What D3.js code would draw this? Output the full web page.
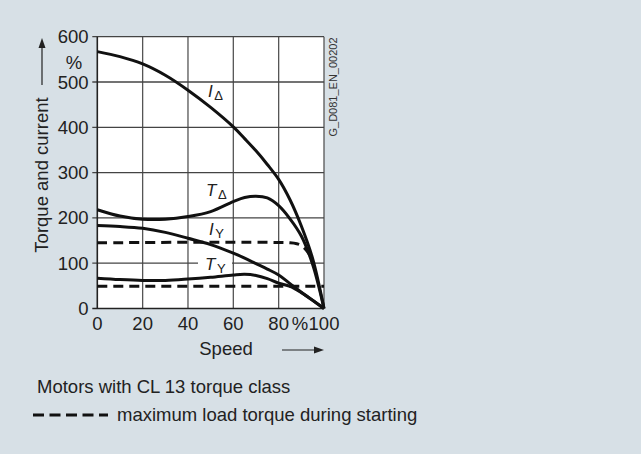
<!DOCTYPE html>
<html>
<head>
<meta charset="utf-8">
<script src="https://cdn.jsdelivr.net/npm/d3@7"></script>
<style>
  body { margin: 0; background: #d7e0e6; }
  svg { display: block; font-family: "Liberation Sans", Arial, sans-serif; }
</style>
</head>
<body>
<svg id="chart" width="641" height="454"></svg>
<script>
// speed in %, values in %
const speed = [0, 10, 20, 30, 40, 50, 60, 65, 70, 75, 80, 85, 90, 95, 100];
const currentDelta = [567, 556, 540, 515, 482, 444, 401, 375, 348, 318, 285, 240, 182, 110, 0];
const torqueDelta = [218, 204, 197, 197, 203, 214, 236, 245, 248, 244, 227, 198, 160, 97, 0];
const currentStar = [183, 181, 177, 168, 155, 141, 122, 111, 99, 87, 74, 55, 36, 18, 0];
const torqueStar = [67, 64, 62, 62, 65, 69, 74, 75.5, 73, 66, 56, 49, 35, 18, 0];

const loadSpeedHigh = [0, 85, 88, 90, 92.5, 95];
const loadHigh = [145, 145, 143, 139, 127, 108];
const loadSpeedLow = [0, 100];
const loadLow = [49, 49];

const xTicks = [0, 20, 40, 60, 80, 100];
const yTicks = [0, 100, 200, 300, 400, 500, 600];

const svg = d3.select("#chart");
const x = d3.scaleLinear().domain([0, 100]).range([97.3, 324]);
const y = d3.scaleLinear().domain([0, 600]).range([308.5, 36.7]);

// plot background
svg.append("rect")
  .attr("x", x(0)).attr("y", y(600))
  .attr("width", x(100) - x(0)).attr("height", y(0) - y(600))
  .attr("fill", "#fff");

// grid
svg.append("g").selectAll("line").data(xTicks.slice(1)).enter().append("line")
  .attr("x1", d => x(d)).attr("x2", d => x(d))
  .attr("y1", y(0)).attr("y2", y(600))
  .attr("stroke", "#555").attr("stroke-width", 1.3);
svg.append("g").selectAll("line").data(yTicks.slice(1)).enter().append("line")
  .attr("x1", x(0) - 5).attr("x2", x(100))
  .attr("y1", d => y(d)).attr("y2", d => y(d))
  .attr("stroke", "#444").attr("stroke-width", 1.3);

// axes
svg.append("line").attr("x1", x(0)).attr("x2", x(0)).attr("y1", y(0)).attr("y2", y(600))
  .attr("stroke", "#222").attr("stroke-width", 1.6);
svg.append("line").attr("x1", x(0) - 5).attr("x2", x(100)).attr("y1", y(0)).attr("y2", y(0))
  .attr("stroke", "#222").attr("stroke-width", 1.6);

// tick labels
svg.append("g").selectAll("text").data(yTicks).enter().append("text")
  .attr("x", 88.5).attr("y", d => y(d) + 6.5)
  .attr("text-anchor", "end").attr("font-size", 18.5).attr("fill", "#222")
  .text(d => d);
svg.append("text").attr("x", 74).attr("y", 69).attr("text-anchor", "middle")
  .attr("font-size", 18.5).attr("fill", "#222").text("%");

svg.append("g").selectAll("text").data(xTicks).enter().append("text")
  .attr("x", d => x(d)).attr("y", 330)
  .attr("text-anchor", "middle").attr("font-size", 18.5).attr("fill", "#222")
  .text(d => d);
svg.append("text").attr("x", 300).attr("y", 330).attr("text-anchor", "middle")
  .attr("font-size", 18.5).attr("fill", "#222").text("%");

// axis titles
svg.append("text")
  .attr("transform", "translate(48,175) rotate(-90)")
  .attr("text-anchor", "middle").attr("font-size", 18.5).attr("fill", "#222")
  .text("Torque and current");
svg.append("line").attr("x1", 42).attr("x2", 42).attr("y1", 85).attr("y2", 44)
  .attr("stroke", "#222").attr("stroke-width", 1.2);
svg.append("path").attr("d", "M42,38 L38.5,48 L45.5,48 Z").attr("fill", "#222");

svg.append("text").attr("x", 226).attr("y", 355).attr("text-anchor", "middle")
  .attr("font-size", 18.5).attr("fill", "#222").text("Speed");
svg.append("line").attr("x1", 282).attr("x2", 318).attr("y1", 350).attr("y2", 350)
  .attr("stroke", "#222").attr("stroke-width", 1.2);
svg.append("path").attr("d", "M324,350 L314,346.5 L314,353.5 Z").attr("fill", "#222");

// drawing number
svg.append("text")
  .attr("transform", "translate(337,87) rotate(-90)")
  .attr("text-anchor", "middle").attr("font-size", 11).attr("fill", "#333")
  .text("G_D081_EN_00202");

// curves
const line = d3.line().curve(d3.curveCatmullRom.alpha(0.5)).x(d => x(d[0])).y(d => y(d[1]));
const pair = (xs, ys) => xs.map((s, i) => [s, ys[i]]);

// label background for T_Y (covers grid line)
svg.append("rect").attr("x", 198).attr("y", 255).attr("width", 34).attr("height", 18).attr("fill", "#fff");

[currentDelta, torqueDelta, currentStar, torqueStar].forEach(series => {
  svg.append("path").attr("d", line(pair(speed, series)))
    .attr("fill", "none").attr("stroke", "#111").attr("stroke-width", 3);
});
[[loadSpeedHigh, loadHigh], [loadSpeedLow, loadLow]].forEach(([xs, ys]) => {
  svg.append("path").attr("d", line(pair(xs, ys)))
    .attr("fill", "none").attr("stroke", "#111").attr("stroke-width", 3)
    .attr("stroke-dasharray", "10,6");
});

// curve labels
const labels = [
  { main: "I", sub: "\u0394", x: 208, y: 97 },
  { main: "T", sub: "\u0394", x: 206, y: 196 },
  { main: "I", sub: "Y", x: 209, y: 235 },
  { main: "T", sub: "Y", x: 205, y: 270 }
];
labels.forEach(l => {
  const t = svg.append("text").attr("x", l.x).attr("y", l.y)
    .attr("font-size", 17).attr("fill", "#222");
  t.append("tspan").attr("font-style", "italic").text(l.main);
  t.append("tspan").attr("dx", 1.5).attr("dy", 3).attr("font-size", 13).text(l.sub);
});

// notes
svg.append("text").attr("x", 37).attr("y", 393).attr("font-size", 18.5).attr("fill", "#222")
  .text("Motors with CL 13 torque class");
svg.append("line").attr("x1", 33).attr("x2", 108).attr("y1", 415).attr("y2", 415)
  .attr("stroke", "#111").attr("stroke-width", 3).attr("stroke-dasharray", "11,5.5");
svg.append("text").attr("x", 117).attr("y", 421).attr("font-size", 18.5).attr("fill", "#222")
  .text("maximum load torque during starting");
</script>
</body>
</html>
